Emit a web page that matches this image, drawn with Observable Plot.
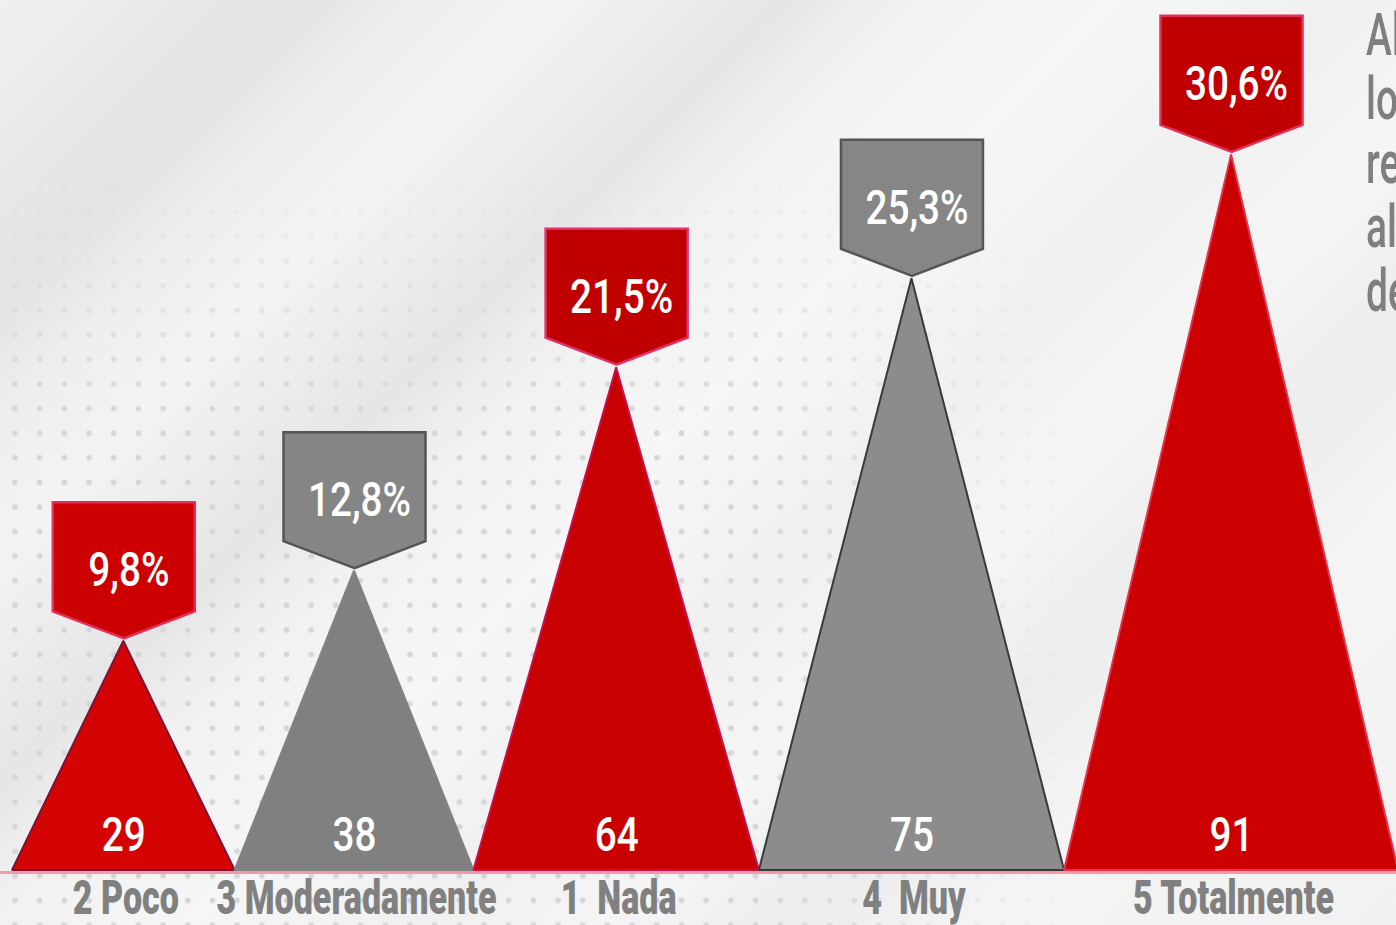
<!DOCTYPE html>
<html>
<head>
<meta charset="utf-8">
<script src="https://cdn.jsdelivr.net/npm/d3@7"></script>
<script src="https://cdn.jsdelivr.net/npm/@observablehq/plot@0.6"></script>
<style>
  html, body { margin: 0; padding: 0; width: 1396px; height: 925px; overflow: hidden; }
  #wrap {
    position: relative; width: 1396px; height: 925px; overflow: hidden;
    background: linear-gradient(135deg,
      #f0f0f0 0%, #e8e8e8 8%, #e4e4e4 13%, #efefef 19%, #f3f3f3 24%,
      #e9e9e9 31%, #e6e6e6 34%, #f1f1f1 39%, #f6f6f6 48%, #f0f0f0 58%,
      #f5f5f5 66%, #ededed 74%, #f4f4f4 82%, #f1f1f1 100%);
  }
  #dotsH {
    position: absolute; left: 0; top: 0; width: 1396px; height: 925px;
    -webkit-mask-image: linear-gradient(to right, #000 0px, #000 760px, transparent 1080px);
    mask-image: linear-gradient(to right, #000 0px, #000 760px, transparent 1080px);
  }
  #dots {
    position: absolute; left: 0; top: 0; width: 1396px; height: 925px;
    background-image: radial-gradient(circle, #d6d6d6 2.5px, rgba(214,214,214,0) 3.3px);
    background-size: 24.7px 24.6px;
    background-position: 2.6px 2.8px;
    -webkit-mask-image: linear-gradient(to bottom, transparent 170px, #000 430px);
    mask-image: linear-gradient(to bottom, transparent 170px, #000 430px);
  }
  #chart { position: absolute; left: 0; top: 0; }
  #chart svg { background: transparent; overflow: visible; }
  #note {
    position: absolute; left: 1366px; top: 3px; white-space: pre;
    font-family: Roboto, sans-serif; font-weight: 500; font-size: 59px; line-height: 64px;
    color: #7f7f7f; transform: scaleX(0.66); transform-origin: 0 0;
  }
</style>
</head>
<body>
<div id="wrap">
  <div id="dotsH"><div id="dots"></div></div>
  <div id="chart"></div>
  <div id="note"></div>
</div>
<script>
// ---- data ----
const categories = ["2 Poco", "3 Moderadamente", "1  Nada", "4  Muy", "5 Totalmente"];
const counts = [29, 38, 64, 75, 91];
const percents = [9.8, 12.8, 21.5, 25.3, 30.6];
const percentLabels = ["9,8%", "12,8%", "21,5%", "25,3%", "30,6%"];
const noteLines = ["Al", "lo", "re", "al", "de"];

// ---- style ----
const triFill   = ["#d40404", "#808080", "#c90000", "#8c8c8c", "#cc0000"];
const triStroke = ["#7a1438", "#828282", "#c8104e", "#3a3a3a", "#e0344f"];
const boxFill   = ["#cc0000", "#858585", "#c00000", "#868686", "#c00000"];
const boxStroke = ["#e2305a", "#555555", "#e0306a", "#555555", "#e2305a"];
const PAD = 95;          // minimum width of each peak (in count units)
const NUM_SCALE = 0.79;  // condensed look for numbers
const LBL_SCALE = 0.71;  // condensed look for bold labels

// ---- derived table ----
let acc = 0;
const peaks = categories.map((c, i) => {
  const x0 = acc; acc += counts[i] + PAD;
  return { c, i, x0, x1: acc, xm: (x0 + acc) / 2, pct: percents[i], count: counts[i], label: percentLabels[i] };
});
const total = acc;
const tri = peaks.flatMap(p => [
  { c: p.c, i: p.i, x: p.x0, y: 0 },
  { c: p.c, i: p.i, x: p.xm, y: p.pct },
  { c: p.c, i: p.i, x: p.x1, y: 0 }
]);

// shield-shaped label box whose point sits on the peak
const shield = {
  draw(ctx) {
    const w = 71, h = 136, p = 27;
    ctx.moveTo(0, 0);
    ctx.lineTo(-w, -p);
    ctx.lineTo(-w, -h);
    ctx.lineTo(w, -h);
    ctx.lineTo(w, -p);
    ctx.closePath();
  }
};

const chart = Plot.plot({
  width: 1396,
  height: 925,
  margin: 0,
  x: { domain: [0, total], range: [12, 1398], axis: null },
  y: { domain: [0, 37.2], range: [870, 0], axis: null },
  color: { type: "identity" },
  style: { background: "transparent", fontFamily: "Roboto, sans-serif" },
  marks: [
    Plot.ruleY([0], { stroke: "#f19aac", strokeWidth: 3, dy: 2 }),
    Plot.areaY(tri, {
      x: "x", y: "y", z: "c",
      fill: d => triFill[d.i], stroke: d => triStroke[d.i],
      strokeWidth: 2, strokeLinejoin: "miter"
    }),
    Plot.dot(peaks, {
      x: "xm", y: "pct", symbol: shield, dy: -3,
      fill: d => boxFill[d.i], stroke: d => boxStroke[d.i],
      strokeWidth: 2.5, strokeLinejoin: "miter"
    }),
    Plot.text(peaks, {
      x: "xm", y: "pct", text: "label", dx: 5, dy: -55, lineAnchor: "bottom",
      fill: "white", fontSize: 49, fontWeight: 500
    }),
    Plot.text(peaks, {
      x: "xm", y: 0, text: d => String(d.count), dy: -20, lineAnchor: "bottom",
      fill: "white", fontSize: 49, fontWeight: 500
    }),
    Plot.text(peaks, {
      x: "xm", y: 0, text: "c", dx: 2, dy: 43, lineAnchor: "bottom",
      fill: "#808080", fontSize: 48, fontWeight: 900
    })
  ]
});

document.getElementById("chart").appendChild(chart);

// condensed type: squeeze each text horizontally around its anchor
chart.querySelectorAll("text").forEach(t => {
  const g = t.closest("g[font-weight]");
  const heavy = g && +g.getAttribute("font-weight") >= 700;
  const s = heavy ? LBL_SCALE : NUM_SCALE;
  const tr = t.getAttribute("transform");
  if (tr) {
    t.setAttribute("transform", tr + ` scale(${s},1)`);
  } else {
    const x = +(t.getAttribute("x") || 0), y = +(t.getAttribute("y") || 0);
    t.setAttribute("transform", `translate(${x},${y}) scale(${s},1) translate(${-x},${-y})`);
  }
});

document.getElementById("note").textContent = noteLines.join("\n");
</script>
</body>
</html>
